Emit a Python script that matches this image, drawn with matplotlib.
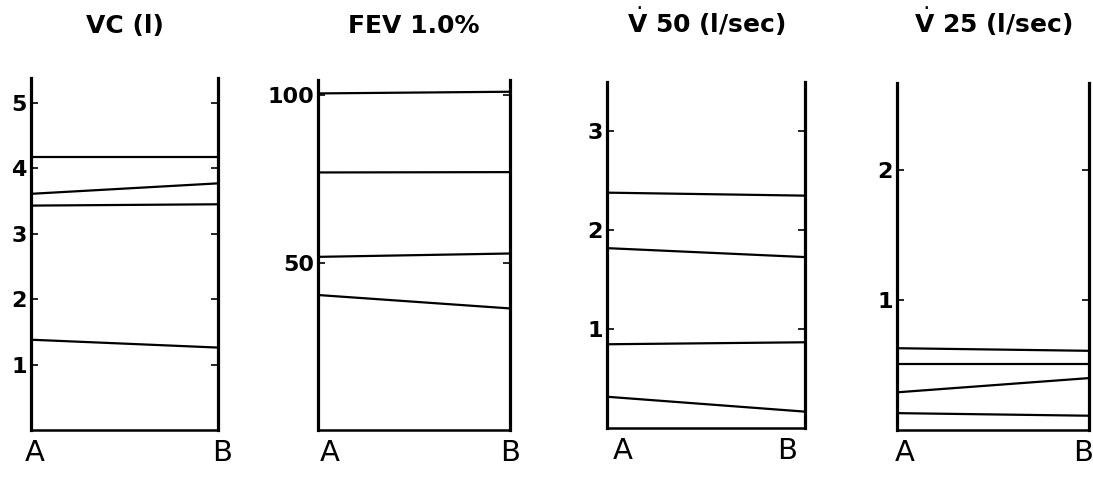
import matplotlib.pyplot as plt

# values, one list per panel: [A, B] for each subject
titles = ['VC (l)', 'FEV 1.0%', r'$\dot{\mathbf{V}}$ 50 (l/sec)', r'$\dot{\mathbf{V}}$ 25 (l/sec)']
x_labels = ['A', 'B']

vc_a = [4.18, 3.61, 3.43, 1.38]
vc_b = [4.18, 3.77, 3.45, 1.26]
fev_a = [100.5, 76.9, 51.7, 40.3]
fev_b = [101.0, 77.0, 52.7, 36.3]
v50_a = [2.38, 1.82, 0.85, 0.32]
v50_b = [2.35, 1.73, 0.87, 0.17]
v25_a = [0.63, 0.51, 0.29, 0.13]
v25_b = [0.61, 0.51, 0.40, 0.11]

yticks = [[1, 2, 3, 4, 5], [50, 100], [1, 2, 3], [1, 2]]
ytops = [5.38, 104.5, 3.5, 2.67]

# layout: axes boxes in figure fractions and where A/B labels sit
boxes = [
    [0.0284, 0.1004, 0.1711, 0.7364],
    [0.2912, 0.1004, 0.1754, 0.7322],
    [0.5556, 0.1036, 0.1809, 0.7255],
    [0.8204, 0.1004, 0.1762, 0.7253],
]
ab_pos = [[0.02, 1.02], [0.06, 1.0], [0.08, 0.91], [0.04, 0.97]]

data = [(vc_a, vc_b), (fev_a, fev_b), (v50_a, v50_b), (v25_a, v25_b)]

fig = plt.figure(figsize=(10.93, 4.78), dpi=100)

for i, (a_vals, b_vals) in enumerate(data):
    ax = fig.add_axes(boxes[i])
    for a, b in zip(a_vals, b_vals):
        ax.plot([0, 1], [a, b], color='black', lw=1.6, solid_capstyle='butt')

    ax.spines['top'].set_visible(False)
    for side in ['left', 'right']:
        ax.spines[side].set_linewidth(2.3)
    ax.spines['bottom'].set_linewidth(1.8)

    ax.set_yticks(yticks[i])
    ax.set_yticklabels([str(t) for t in yticks[i]], fontsize=16,
                       fontweight='bold', family='Liberation Sans Narrow')
    ax.tick_params(axis='y', direction='in', left=True, right=True,
                   length=5, width=1.2, pad=3)
    ax.set_xticks([])

    ax.set_xlim(0, 1)
    ax.set_ylim(0, ytops[i])

    # A / B under the axis
    for pos, lab in zip(ab_pos[i], x_labels):
        ax.text(pos, -0.025, lab, transform=ax.transAxes, ha='center',
                va='top', fontsize=21)

    box = boxes[i]
    fig.text(box[0] + box[2] / 2, 0.931, titles[i], ha='center',
             va='baseline', fontsize=18, fontweight='bold')

fig.savefig('out.png', dpi=100)
